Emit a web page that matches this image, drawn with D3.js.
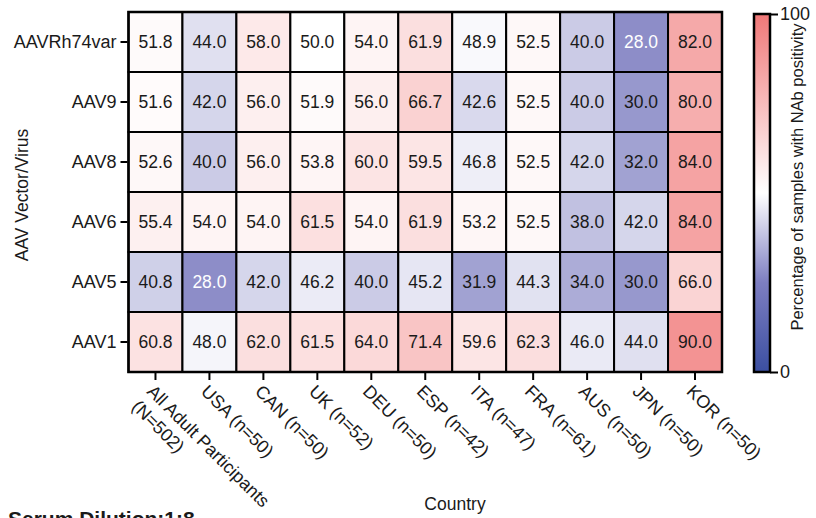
<!DOCTYPE html>
<html>
<head>
<meta charset="utf-8">
<script src="https://cdn.jsdelivr.net/npm/d3@7"></script>
<style>
  body { margin: 0; background: #fff; }
  svg { font-family: 'Liberation Sans', Arial, sans-serif; }
</style>
</head>
<body>
<div id="chart"></div>
<script>
const vectors = ['AAVRh74var', 'AAV9', 'AAV8', 'AAV6', 'AAV5', 'AAV1'];
const countries = ['All Adult Participants\n(N=502)', 'USA (n=50)', 'CAN (n=50)', 'UK (n=52)',
  'DEU (n=50)', 'ESP (n=42)', 'ITA (n=47)', 'FRA (n=61)', 'AUS (n=50)', 'JPN (n=50)', 'KOR (n=50)'];

// one array per row, same order as countries
const rh74var = [51.8, 44.0, 58.0, 50.0, 54.0, 61.9, 48.9, 52.5, 40.0, 28.0, 82.0];
const aav9 = [51.6, 42.0, 56.0, 51.9, 56.0, 66.7, 42.6, 52.5, 40.0, 30.0, 80.0];
const aav8 = [52.6, 40.0, 56.0, 53.8, 60.0, 59.5, 46.8, 52.5, 42.0, 32.0, 84.0];
const aav6 = [55.4, 54.0, 54.0, 61.5, 54.0, 61.9, 53.2, 52.5, 38.0, 42.0, 84.0];
const aav5 = [40.8, 28.0, 42.0, 46.2, 40.0, 45.2, 31.9, 44.3, 34.0, 30.0, 66.0];
const aav1 = [60.8, 48.0, 62.0, 61.5, 64.0, 71.4, 59.6, 62.3, 46.0, 44.0, 90.0];
const rows = [rh74var, aav9, aav8, aav6, aav5, aav1];

const colorTicks = [0, 100];

const width = 816;
const height = 518;
const plot = { left: 128.5, right: 722, top: 12, bottom: 372 };
const font = "'Liberation Sans', Arial, sans-serif";

const svg = d3.select('#chart').append('svg')
  .attr('width', width)
  .attr('height', height);

const x = d3.scaleBand().domain(countries).range([plot.left, plot.right]);
const y = d3.scaleBand().domain(vectors).range([plot.top, plot.bottom]);

// blue -> white -> red, like the Prism palette
const color = d3.scaleLinear()
  .domain([0, 25, 50, 100])
  .range(['#3b4fa1', '#7d7ec1', '#ffffff', '#f07878'])
  .clamp(true);

const cells = [];
rows.forEach((vals, r) => vals.forEach((v, c) => cells.push({ row: vectors[r], col: countries[c], v })));

svg.append('g').selectAll('rect')
  .data(cells)
  .enter()
  .append('rect')
  .attr('x', d => x(d.col))
  .attr('y', d => y(d.row))
  .attr('width', x.bandwidth())
  .attr('height', y.bandwidth())
  .attr('fill', d => color(d.v))
  .attr('stroke', '#000')
  .attr('stroke-width', 2);

svg.append('g').selectAll('text')
  .data(cells)
  .enter()
  .append('text')
  .attr('x', d => x(d.col) + x.bandwidth() / 2)
  .attr('y', d => y(d.row) + y.bandwidth() / 2)
  .attr('dy', '0.36em')
  .attr('text-anchor', 'middle')
  .attr('font-size', 17.5)
  .attr('fill', d => (d.v < 29 ? '#fff' : '#1a1a1a'))
  .text(d => d.v.toFixed(1));

// outer frame
svg.append('rect')
  .attr('x', plot.left)
  .attr('y', plot.top)
  .attr('width', plot.right - plot.left)
  .attr('height', plot.bottom - plot.top)
  .attr('fill', 'none')
  .attr('stroke', '#000')
  .attr('stroke-width', 2.5);

// y axis
const yAxis = svg.append('g')
  .attr('transform', `translate(${plot.left - 1},0)`)
  .call(d3.axisLeft(y).tickSize(7).tickPadding(4));
yAxis.select('.domain').remove();
yAxis.selectAll('line').attr('stroke', '#000').attr('stroke-width', 2);
yAxis.selectAll('text').attr('font-size', 18).attr('fill', '#1a1a1a').attr('font-family', font);

// x axis with rotated labels
const xAxis = svg.append('g')
  .attr('transform', `translate(0,${plot.bottom + 1})`)
  .call(d3.axisBottom(x).tickSize(7).tickFormat(''));
xAxis.select('.domain').remove();
xAxis.selectAll('line').attr('stroke', '#000').attr('stroke-width', 2);
xAxis.selectAll('.tick').append('text')
  .attr('transform', 'translate(-5,15) rotate(45)')
  .attr('text-anchor', 'start')
  .attr('font-size', 18)
  .attr('fill', '#1a1a1a')
  .attr('font-family', font)
  .each(function (d) {
    const lines = d.split('\n');
    d3.select(this).selectAll('tspan')
      .data(lines)
      .enter()
      .append('tspan')
      .attr('x', 0)
      .attr('dy', (l, i) => (i === 0 ? '0.35em' : '1.2em'))
      .text(l => l);
  });

// axis titles
svg.append('text')
  .attr('transform', 'translate(28,195) rotate(-90)')
  .attr('text-anchor', 'middle')
  .attr('font-size', 17.5)
  .attr('fill', '#1a1a1a')
  .text('AAV Vector/Virus');

svg.append('text')
  .attr('x', 455)
  .attr('y', 510)
  .attr('text-anchor', 'middle')
  .attr('font-size', 17.5)
  .attr('fill', '#1a1a1a')
  .text('Country');

// subtitle, partly below the page edge as in the original
svg.append('text')
  .attr('x', 8)
  .attr('y', 526)
  .attr('font-size', 21)
  .attr('font-weight', 'bold')
  .attr('fill', '#1a1a1a')
  .text('Serum Dilution:1:8');

// colour bar
const bar = { x: 754, w: 16, top: 14, bottom: 372 };
const cScale = d3.scaleLinear().domain([0, 100]).range([bar.bottom, bar.top]);

const grad = svg.append('defs').append('linearGradient')
  .attr('id', 'grad')
  .attr('x1', 0).attr('y1', 1).attr('x2', 0).attr('y2', 0);
grad.selectAll('stop')
  .data(color.domain())
  .enter()
  .append('stop')
  .attr('offset', d => d / 100)
  .attr('stop-color', d => color(d));

svg.append('rect')
  .attr('x', bar.x)
  .attr('y', bar.top)
  .attr('width', bar.w)
  .attr('height', bar.bottom - bar.top)
  .attr('fill', 'url(#grad)')
  .attr('stroke', '#000')
  .attr('stroke-width', 2.5);

const cAxis = svg.append('g')
  .attr('transform', `translate(${bar.x + bar.w},0)`)
  .call(d3.axisRight(cScale).tickValues(colorTicks).tickSize(8).tickPadding(2));
cAxis.select('.domain').remove();
cAxis.selectAll('line').attr('stroke', '#000').attr('stroke-width', 2);
cAxis.selectAll('text').attr('font-size', 18).attr('fill', '#1a1a1a').attr('font-family', font);

svg.append('text')
  .attr('transform', 'translate(803,177) rotate(-90)')
  .attr('text-anchor', 'middle')
  .attr('font-size', 16.5)
  .attr('fill', '#1a1a1a')
  .text('Percentage of samples with NAb positivity');
</script>
</body>
</html>
